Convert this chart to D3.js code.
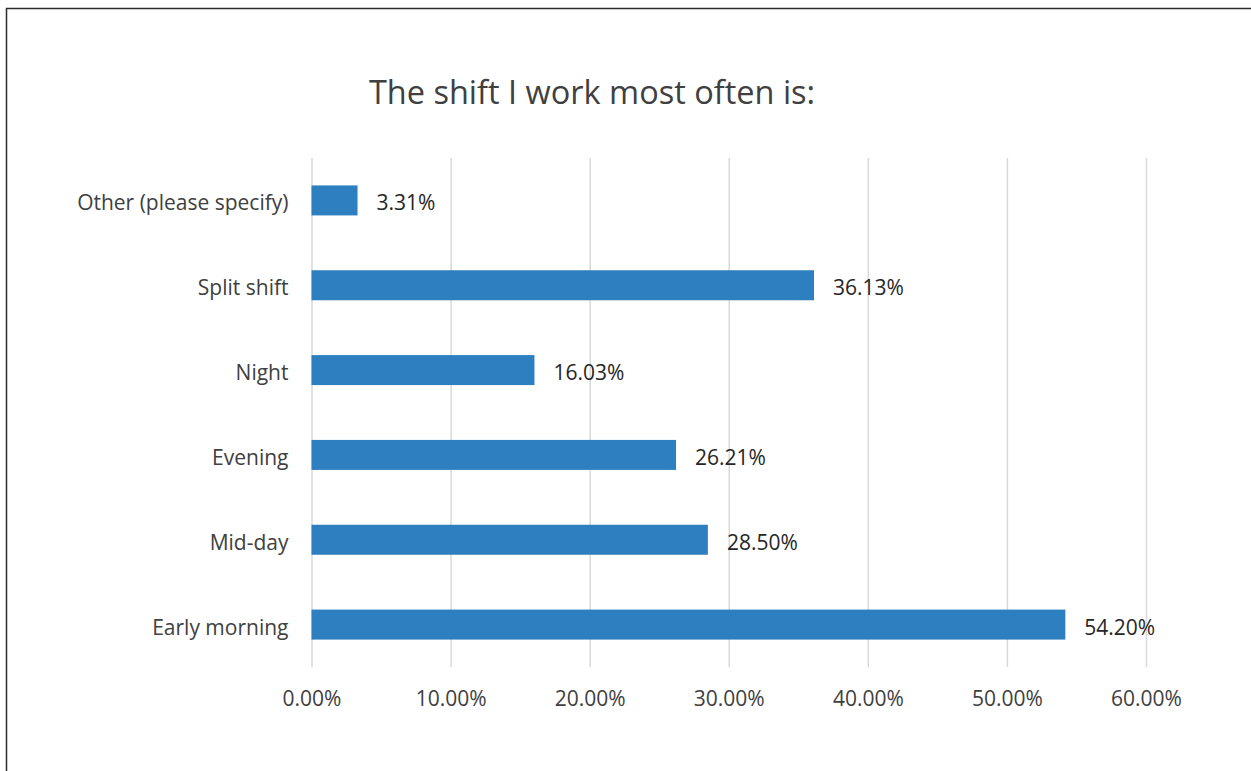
<!DOCTYPE html>
<html>
<head>
<meta charset="utf-8">
<script src="https://cdn.jsdelivr.net/npm/d3@7"></script>
<style>
  html, body { margin: 0; padding: 0; background: #fff; }
  svg { display: block; }
  text { font-family: "Open Sans", "Noto Sans", sans-serif; }
</style>
</head>
<body>
<svg id="chart" width="1251" height="771"></svg>
<script>
const title = "The shift I work most often is:";
const categories = ["Other (please specify)", "Split shift", "Night", "Evening", "Mid-day", "Early morning"];
const values = [0.0331, 0.3613, 0.1603, 0.2621, 0.2850, 0.5420];
const tickValues = [0, 0.1, 0.2, 0.3, 0.4, 0.5, 0.6];

const svg = d3.select("#chart");
const W = 1251, H = 771;

// outer border (only top and left visible in reference)
svg.append("rect")
  .attr("x", 6.5).attr("y", 8.5)
  .attr("width", W + 20).attr("height", H + 20)
  .attr("fill", "none").attr("stroke", "#2b2b2b").attr("stroke-width", 1.5);

const plot = { left: 311.5, right: 1146, top: 158, bottom: 667 };

const x = d3.scaleLinear().domain([0, 0.6]).range([plot.left, plot.right]);
const y = d3.scaleBand().domain(categories).range([plot.top, plot.bottom])
  .paddingInner(0.6464).paddingOuter(0.3232);

const pct = d3.format(".2%");

// title
svg.append("text")
  .attr("x", 592).attr("y", 104)
  .attr("text-anchor", "middle")
  .attr("fill", "#404040")
  .attr("font-size", 32.5)
  .text(title);

// gridlines + value axis labels
const xAxis = d3.axisBottom(x).tickValues(tickValues).tickFormat(pct)
  .tickSize(-(plot.bottom - plot.top)).tickPadding(24);
const gx = svg.append("g").attr("transform", `translate(0,${plot.bottom})`).call(xAxis);
gx.select(".domain").remove();
gx.selectAll(".tick line").attr("stroke", "#d9d9d9").attr("stroke-width", 1.5);
gx.selectAll(".tick text")
  .attr("fill", "#404040").attr("font-size", 21)
  .attr("font-family", "Open Sans, Noto Sans, sans-serif");

// category axis
const yAxis = d3.axisLeft(y).tickSize(0).tickPadding(23);
const gy = svg.append("g").attr("transform", `translate(${plot.left},0)`).call(yAxis);
gy.select(".domain").remove();
gy.selectAll(".tick text")
  .attr("fill", "#404040").attr("font-size", 21)
  .attr("font-family", "Open Sans, Noto Sans, sans-serif")
  .attr("dy", null).attr("y", 10);

// bars
svg.append("g").selectAll("rect")
  .data(categories)
  .join("rect")
  .attr("x", x(0))
  .attr("y", (d) => y(d))
  .attr("width", (d, i) => x(values[i]) - x(0))
  .attr("height", y.bandwidth())
  .attr("fill", "#2e7fbf");

// data labels
svg.append("g").selectAll("text")
  .data(categories)
  .join("text")
  .attr("x", (d, i) => x(values[i]) + 19)
  .attr("y", (d) => y(d) + y.bandwidth() / 2 + 10)
  .attr("fill", "#262626")
  .attr("font-size", 21)
  .text((d, i) => pct(values[i]));
</script>
</body>
</html>
